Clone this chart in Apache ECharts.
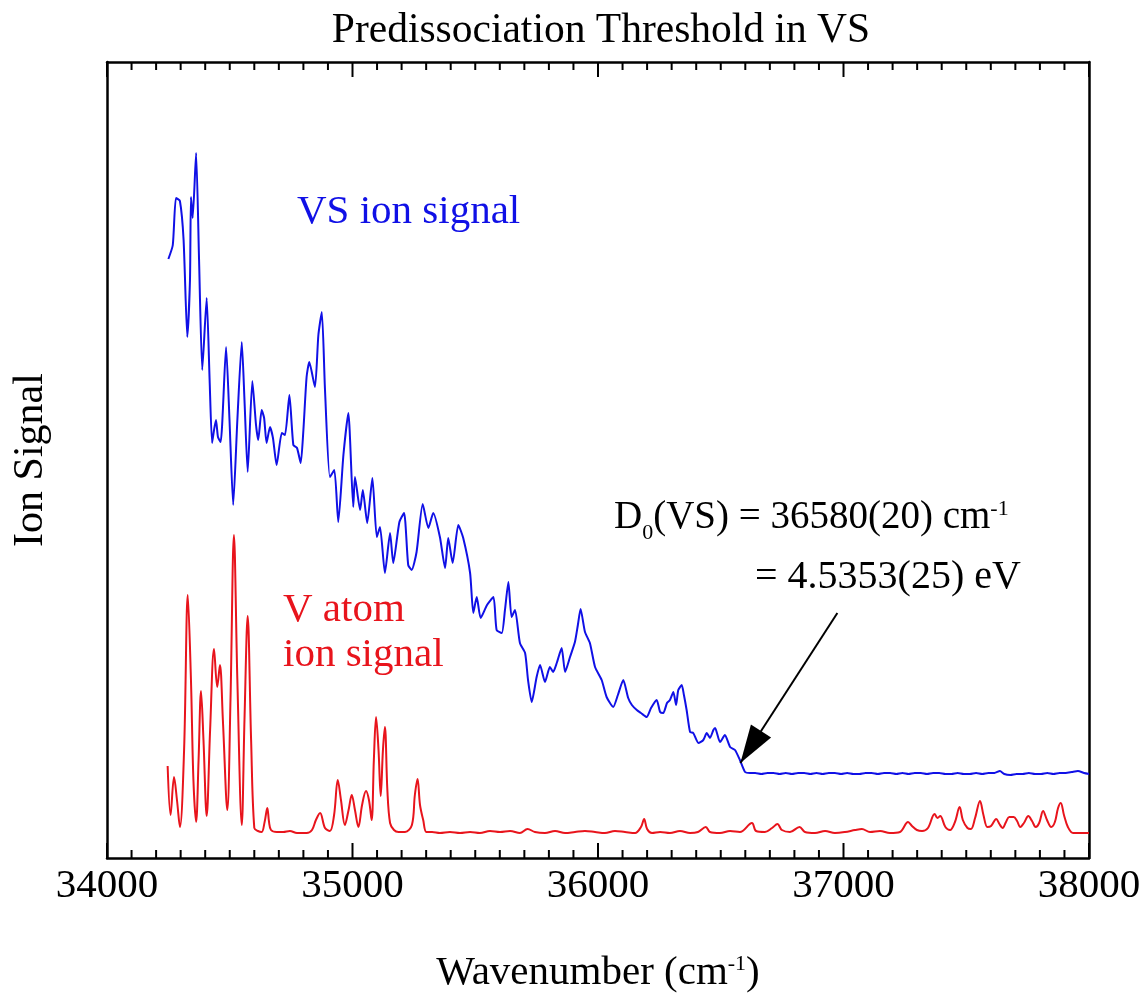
<!DOCTYPE html>
<html>
<head>
<meta charset="utf-8">
<title>Predissociation Threshold in VS</title>
<script src="https://cdn.jsdelivr.net/npm/echarts@6/dist/echarts.min.js"></script>
<style>
  html, body { margin: 0; padding: 0; background: #ffffff; }
  #chart { width: 1144px; height: 995px; }
</style>
</head>
<body>
<div id="chart"></div>
<script>
// VS ion signal (blue trace): wavenumber (cm^-1) and signal (arb. units)
const vsWavenumber = [
  34250, 34268, 34281, 34297, 34312, 34327, 34338, 34342, 34349, 34363,
  34375, 34388, 34406, 34418, 34428, 34436, 34444, 34452, 34463, 34485,
  34499, 34514, 34531, 34549, 34560, 34573, 34592, 34607, 34616, 34630,
  34640, 34650, 34664, 34676, 34691, 34712, 34725, 34743, 34759, 34774,
  34789, 34800, 34813, 34824, 34847, 34861, 34875, 34888, 34908, 34926,
  34942, 34963, 34983, 35003, 35010, 35031, 35042, 35060, 35081, 35099,
  35112, 35132, 35153, 35166, 35191, 35210, 35227, 35241, 35261, 35286,
  35309, 35329, 35356, 35377, 35390, 35408, 35431, 35451, 35479, 35492,
  35506, 35522, 35548, 35574, 35587, 35608, 35621, 35635, 35648, 35662,
  35682, 35703, 35715, 35730, 35750, 35764, 35784, 35804, 35817, 35832,
  35852, 35866, 35886, 35906, 35918, 35929, 35947, 35967, 35988, 36015,
  36035, 36062, 36081, 36103, 36123, 36138, 36158, 36175, 36198, 36216,
  36239, 36253, 36266, 36281, 36293, 36307, 36318, 36327, 36341, 36350,
  36361, 36375, 36388, 36409, 36429, 36443, 36456, 36470, 36477, 36497,
  36517, 36538, 36558, 36578, 36599, 36619,
  36640, 36665, 36690, 36715, 36740, 36765, 36790, 36815, 36840, 36865,
  36890, 36915, 36940, 36965, 36990, 37015, 37040, 37065, 37090, 37115,
  37140, 37165, 37190, 37215, 37240, 37265, 37290, 37315, 37340, 37365,
  37390, 37415, 37440, 37465, 37490, 37515, 37540, 37565, 37590, 37615,
  37637, 37655, 37680, 37705, 37730, 37755, 37780, 37805, 37830, 37855,
  37880, 37905, 37930, 37955, 37980, 38000
];
const vsSignal = [
  5.99, 6.13, 6.60, 6.57, 6.18, 5.21, 5.78, 6.61, 6.40, 7.05,
  5.98, 4.88, 5.60, 4.78, 4.15, 4.28, 4.38, 4.21, 4.16, 5.11,
  4.38, 3.53, 4.38, 5.16, 4.58, 3.86, 4.77, 4.33, 4.18, 4.48,
  4.40, 4.15, 4.31, 4.20, 3.93, 4.25, 4.23, 4.63, 4.13, 4.10,
  3.95, 4.28, 4.81, 4.96, 4.71, 5.23, 5.46, 4.68, 3.81, 3.88,
  3.36, 4.03, 4.45, 3.51, 3.81, 3.48, 3.68, 3.35, 3.80, 3.21,
  3.31, 2.85, 3.25, 2.95, 3.36, 3.45, 2.93, 2.88, 3.06, 3.54,
  3.30, 3.45, 3.21, 2.90, 3.20, 2.95, 3.33, 3.20, 2.85, 2.45,
  2.61, 2.40, 2.53, 2.61, 2.28, 2.25, 2.48, 2.76, 2.41, 2.48,
  2.15, 2.05, 1.78, 1.56, 1.81, 1.93, 1.76, 1.91, 1.86, 1.95,
  2.10, 1.86, 2.01, 2.16, 2.33, 2.49, 2.26, 2.15, 1.91, 1.78,
  1.61, 1.51, 1.63, 1.78, 1.60, 1.53, 1.48, 1.45, 1.41, 1.50,
  1.58, 1.46, 1.45, 1.55, 1.58, 1.66, 1.53, 1.68, 1.73, 1.63,
  1.48, 1.26, 1.25, 1.15, 1.18, 1.25, 1.20, 1.28, 1.30, 1.16,
  1.23, 1.11, 1.08, 0.98, 0.86, 0.85,
  0.85, 0.84, 0.85, 0.85, 0.84, 0.85, 0.84, 0.85, 0.85, 0.84,
  0.85, 0.84, 0.85, 0.85, 0.84, 0.85, 0.84, 0.84, 0.85, 0.85,
  0.84, 0.85, 0.85, 0.84, 0.85, 0.84, 0.85, 0.85, 0.84, 0.85,
  0.85, 0.84, 0.84, 0.85, 0.84, 0.84, 0.85, 0.84, 0.85, 0.85,
  0.87, 0.84, 0.83, 0.84, 0.84, 0.85, 0.84, 0.84, 0.85, 0.84,
  0.85, 0.85, 0.86, 0.87, 0.85, 0.84
];

// V atom ion signal (red trace)
const vAtomWavenumber = [
  34247, 34259, 34273, 34285, 34297, 34314, 34329, 34342, 34352, 34363,
  34373, 34383, 34393, 34406, 34420, 34436, 34449, 34460, 34472, 34490,
  34503, 34517, 34531, 34549, 34560, 34573, 34587, 34600, 34615, 34630,
  34642, 34653, 34660, 34668, 34692, 34718, 34745, 34774, 34813, 34835,
  34851, 34868, 34888, 34908, 34925, 34940, 34953, 34969, 34984, 34997,
  35010, 35024, 35039, 35055, 35067, 35078, 35087, 35096, 35106, 35115,
  35124, 35132, 35142, 35153, 35169, 35187, 35214, 35242, 35254, 35265,
  35275, 35288, 35301, 35324, 35356, 35397, 35438, 35479, 35519, 35560,
  35601, 35642, 35682, 35713, 35743, 35784, 35825, 35866, 35906, 35947,
  35988, 36028, 36069, 36110, 36151, 36175, 36188, 36200, 36220, 36253,
  36293, 36334, 36375, 36407, 36439, 36456, 36497, 36538, 36578, 36627,
  36644, 36680, 36709, 36731, 36749, 36782, 36821, 36843, 36884, 36925,
  36965, 37006, 37047, 37075, 37108, 37149, 37189, 37230, 37263, 37279,
  37299, 37320, 37344, 37371, 37383, 37394, 37415, 37434, 37454, 37473,
  37486, 37505, 37519, 37536, 37556, 37570, 37586, 37601, 37622, 37635,
  37648, 37662, 37675, 37693, 37707, 37720, 37735, 37753, 37768, 37783,
  37797, 37813, 37829, 37846, 37861, 37874, 37885, 37898, 37914, 37935,
  37963, 38000
];
const vAtomSignal = [
  0.92, 0.43, 0.81, 0.58, 0.31, 1.08, 2.63, 1.78, 0.78, 0.36,
  0.98, 1.67, 1.18, 0.42, 1.28, 2.09, 1.71, 1.93, 1.38, 0.48,
  1.58, 3.23, 1.78, 0.33, 1.38, 2.42, 1.18, 0.30, 0.27, 0.26,
  0.36, 0.50, 0.36, 0.28, 0.26, 0.26, 0.27, 0.25, 0.25, 0.28,
  0.38, 0.45, 0.30, 0.27, 0.43, 0.78, 0.58, 0.33, 0.48, 0.63,
  0.48, 0.31, 0.53, 0.67, 0.58, 0.38, 0.98, 1.41, 1.08, 0.62,
  1.08, 1.31, 0.68, 0.35, 0.28, 0.26, 0.26, 0.33, 0.63, 0.79,
  0.53, 0.38, 0.26, 0.26, 0.25, 0.26, 0.25, 0.26, 0.25, 0.27,
  0.26, 0.27, 0.25, 0.29, 0.26, 0.25, 0.27, 0.25, 0.26, 0.27,
  0.26, 0.25, 0.27, 0.26, 0.25, 0.31, 0.39, 0.29, 0.25, 0.26,
  0.25, 0.27, 0.25, 0.26, 0.31, 0.26, 0.25, 0.27, 0.26, 0.35,
  0.27, 0.26, 0.30, 0.34, 0.28, 0.26, 0.31, 0.26, 0.25, 0.27,
  0.25, 0.26, 0.28, 0.29, 0.26, 0.27, 0.25, 0.26, 0.36, 0.32,
  0.28, 0.27, 0.30, 0.44, 0.40, 0.42, 0.31, 0.28, 0.36, 0.51,
  0.38, 0.30, 0.29, 0.40, 0.57, 0.43, 0.31, 0.32, 0.39, 0.34,
  0.30, 0.36, 0.41, 0.41, 0.37, 0.31, 0.35, 0.42, 0.37, 0.31,
  0.35, 0.47, 0.38, 0.31, 0.36, 0.50, 0.55, 0.43, 0.31, 0.25,
  0.25, 0.25
];

// Axis ticks and the dissociation threshold annotation
const xTicks = [34000, 35000, 36000, 37000, 38000];
const MINOR_STEP = 100;          // cm^-1 between minor ticks
const D0 = 36580;                // cm^-1
const D0_eV = '4.5353(25)';
const arrowStart = [36975, 2.45];
const arrowTipSignal = 0.95;

const Y_MIN = 0;
const Y_MAX = 7.96;
const SERIF = '"Liberation Serif", "Times New Roman", serif';
const BLUE = '#1010e6';
const RED = '#e8141c';
const MAJOR_LEN = 15;
const MINOR_LEN = 8;

const zip = (xs, ys) => xs.map((x, i) => [x, ys[i]]);

function frameXAxis(position, extra) {
  return Object.assign({
    type: 'value',
    position: position,
    min: xTicks[0],
    max: xTicks[xTicks.length - 1],
    interval: 1000,
    splitLine: { show: false },
    axisLine: { show: true, onZero: false, lineStyle: { color: '#000', width: 2.5 } },
    axisTick: { show: false },
    minorTick: { show: false },
    axisLabel: { show: false }
  }, extra || {});
}
function frameYAxis(position, extra) {
  return Object.assign({
    type: 'value',
    position: position,
    min: Y_MIN,
    max: Y_MAX,
    splitLine: { show: false },
    axisTick: { show: false },
    axisLabel: { show: false },
    axisLine: { show: true, onZero: false, lineStyle: { color: '#000', width: 2.5 } }
  }, extra || {});
}

// Text annotations of the plot
const annotations = [
  {
    id: 'vs-label', type: 'text', x: 297, y: 212, silent: true, z: 10,
    style: { text: 'VS ion signal', fill: BLUE, font: '41px ' + SERIF, verticalAlign: 'middle', align: 'left' }
  },
  {
    id: 'v-label-1', type: 'text', x: 283, y: 610, silent: true, z: 10,
    style: { text: 'V atom', fill: RED, font: '41px ' + SERIF, verticalAlign: 'middle', align: 'left' }
  },
  {
    id: 'v-label-2', type: 'text', x: 283, y: 655, silent: true, z: 10,
    style: { text: 'ion signal', fill: RED, font: '41px ' + SERIF, verticalAlign: 'middle', align: 'left' }
  },
  {
    id: 'd0-label', type: 'text', x: 614, y: 498, silent: true, z: 10,
    style: {
      text: '{t|D}{sub|0}{t|(VS) = ' + D0 + '(20) cm}{sup|-1}',
      fill: '#000', align: 'left', verticalAlign: 'top',
      rich: {
        t: { fontFamily: SERIF, fontSize: 39, lineHeight: 40, verticalAlign: 'top', fill: '#000' },
        sub: { fontFamily: SERIF, fontSize: 22, verticalAlign: 'top', padding: [24, 0, 0, 0], fill: '#000' },
        sup: { fontFamily: SERIF, fontSize: 22, verticalAlign: 'top', padding: [0, 0, 0, 0], fill: '#000' }
      }
    }
  },
  {
    id: 'ev-label', type: 'text', x: 755, y: 577, silent: true, z: 10,
    style: { text: '= ' + D0_eV + ' eV', fill: '#000', font: '40px ' + SERIF, verticalAlign: 'middle', align: 'left' }
  }
];

const chart = echarts.init(document.getElementById('chart'), null, { renderer: 'canvas' });

chart.setOption({
  animation: false,
  backgroundColor: '#ffffff',
  title: {
    text: 'Predissociation Threshold in VS',
    left: 596,
    top: 5,
    textAlign: 'center',
    textStyle: { fontFamily: SERIF, fontSize: 41.5, fontWeight: 'normal', color: '#000' }
  },
  grid: { left: 107, right: 55, top: 62, bottom: 137, containLabel: false, outerBoundsContain: 'axisLabel' },
  xAxis: [
    frameXAxis('bottom', {
      name: 'Wavenumber (cm{sup|-1})',
      nameLocation: 'middle',
      nameGap: 95,
      nameTextStyle: {
        fontFamily: SERIF, fontSize: 41, color: '#000',
        rich: { sup: { fontFamily: SERIF, fontSize: 22, verticalAlign: 'top', color: '#000' } }
      },
      axisLabel: {
        show: true, margin: 8, fontFamily: SERIF, fontSize: 41, color: '#000',
        formatter: (v) => String(v)
      }
    }),
    frameXAxis('top')
  ],
  yAxis: [
    frameYAxis('left', {
      name: 'Ion Signal',
      nameLocation: 'middle',
      nameGap: 55,
      nameTextStyle: { fontFamily: SERIF, fontSize: 42, color: '#000' }
    }),
    frameYAxis('right')
  ],
  series: [
    {
      name: 'VS ion signal',
      type: 'line',
      xAxisIndex: 0,
      yAxisIndex: 0,
      data: zip(vsWavenumber, vsSignal),
      showSymbol: false,
      symbol: 'none',
      silent: true,
      smooth: 0.2,
      lineStyle: { color: BLUE, width: 2 },
      itemStyle: { color: BLUE },
      markLine: {
        silent: true,
        animation: false,
        symbol: ['none', 'none'],
        label: { show: false },
        lineStyle: { color: '#000', width: 2, type: 'solid' },
        emphasis: { disabled: true },
        data: [[
          { coord: arrowStart },
          { coord: [D0, arrowTipSignal], symbol: 'triangle', symbolSize: [24, 38], symbolOffset: [0, 19] }
        ]]
      }
    },
    {
      name: 'V atom ion signal',
      type: 'line',
      xAxisIndex: 0,
      yAxisIndex: 0,
      data: zip(vAtomWavenumber, vAtomSignal),
      showSymbol: false,
      symbol: 'none',
      silent: true,
      smooth: 0.35,
      lineStyle: { color: RED, width: 2 },
      itemStyle: { color: RED }
    }
  ],
  graphic: annotations
});

// Inward-pointing frame ticks on the bottom and top edges, placed through the axis scale:
// long at every labelled wavenumber, short every 100 cm^-1 in between
try {
  const tickElements = [];
  for (let w = xTicks[0]; w <= xTicks[xTicks.length - 1]; w += MINOR_STEP) {
    const len = xTicks.indexOf(w) >= 0 ? MAJOR_LEN : MINOR_LEN;
    const bottom = chart.convertToPixel({ xAxisIndex: 0, yAxisIndex: 0 }, [w, Y_MIN]);
    const top = chart.convertToPixel({ xAxisIndex: 0, yAxisIndex: 0 }, [w, Y_MAX]);
    const style = { stroke: '#000', lineWidth: 2 };
    tickElements.push({
      id: 'tick-b-' + w, type: 'line', silent: true, z: 20,
      shape: { x1: bottom[0], y1: bottom[1], x2: bottom[0], y2: bottom[1] - len },
      style: Object.assign({}, style)
    });
    tickElements.push({
      id: 'tick-t-' + w, type: 'line', silent: true, z: 20,
      shape: { x1: top[0], y1: top[1], x2: top[0], y2: top[1] + len },
      style: Object.assign({}, style)
    });
  }
  chart.setOption({ graphic: annotations.concat(tickElements) });
} catch (e) {
  // keep the chart as drawn if the tick overlay cannot be placed
}
</script>
</body>
</html>
